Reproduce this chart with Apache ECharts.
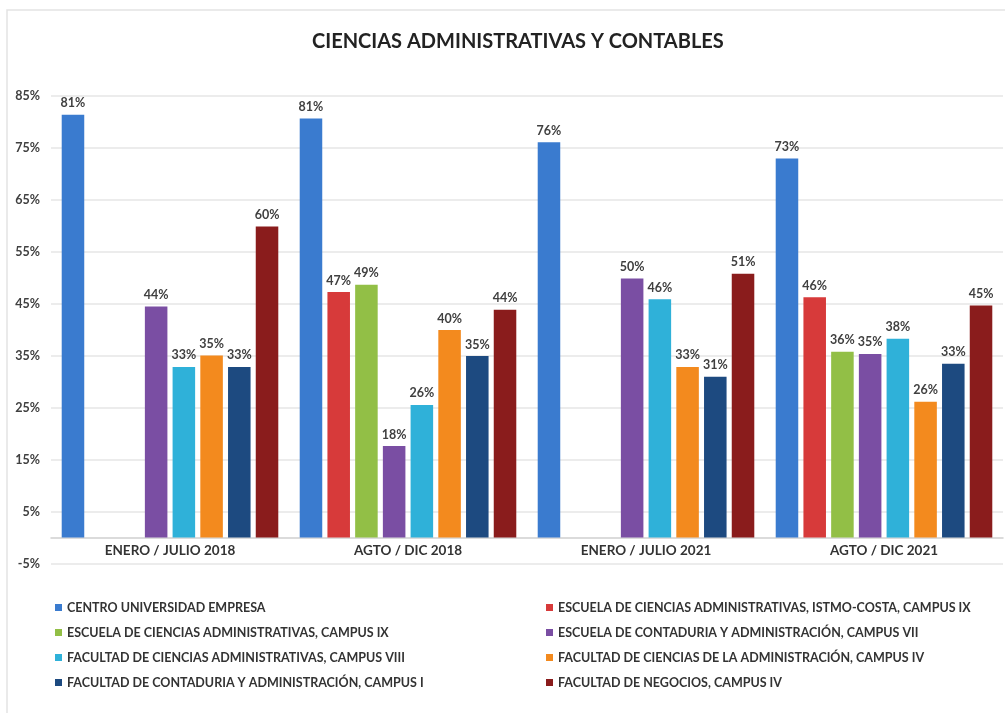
<!DOCTYPE html>
<html>
<head>
<meta charset="utf-8">
<script src="https://cdn.jsdelivr.net/npm/echarts@6/dist/echarts.min.js"></script>
<style>
    html, body { margin: 0; padding: 0; background: #fff; }
    #chart { width: 1005px; height: 713px; }
</style>
</head>
<body>
<div id="chart"></div>
<script>
var periodos = ['ENERO / JULIO 2018', 'AGTO / DIC 2018', 'ENERO / JULIO 2021', 'AGTO / DIC 2021'];

var nombres = [
    'CENTRO UNIVERSIDAD EMPRESA',
    'ESCUELA DE CIENCIAS ADMINISTRATIVAS, ISTMO-COSTA, CAMPUS IX',
    'ESCUELA DE CIENCIAS ADMINISTRATIVAS, CAMPUS IX',
    'ESCUELA DE CONTADURIA Y ADMINISTRACIÓN, CAMPUS VII',
    'FACULTAD DE CIENCIAS ADMINISTRATIVAS, CAMPUS VIII',
    'FACULTAD DE CIENCIAS DE LA ADMINISTRACIÓN, CAMPUS IV',
    'FACULTAD DE CONTADURIA Y ADMINISTRACIÓN, CAMPUS I',
    'FACULTAD DE NEGOCIOS, CAMPUS IV'
];

// valores por periodo (en %)
var centroEmpresa = [81.3, 80.6, 76.0, 72.9];
var istmoCosta = [0, 47.2, 0, 46.2];
var cienciasAdmIX = [0, 48.6, 0, 35.7];
var contaduriaVII = [44.4, 17.6, 49.8, 35.3];
var cienciasAdmVIII = [32.8, 25.5, 45.8, 38.2];
var cienciasAdmonIV = [35.0, 39.9, 32.8, 26.1];
var contaduriaI = [32.8, 34.9, 30.9, 33.4];
var negociosIV = [59.8, 43.8, 50.7, 44.6];

var valores = [centroEmpresa, istmoCosta, cienciasAdmIX, contaduriaVII,
    cienciasAdmVIII, cienciasAdmonIV, contaduriaI, negociosIV];

var colores = ['#3a7bcf', '#d73a3a', '#92bf46', '#7a4ea3', '#2fb1d9', '#f38a1e', '#1d4a80', '#8a1c1c'];

var fuente = 'Lato, "Open Sans", sans-serif';

var mychart = echarts.init(document.getElementById('chart'));

var series = nombres.map(function (n, i) {
    return {
        name: n,
        type: 'bar',
        data: valores[i],
        barGap: '23%',
        barCategoryGap: '9%',
        itemStyle: {color: colores[i]},
        label: {
            show: true,
            position: 'top',
            distance: 5,
            color: '#404040',
            fontFamily: fuente,
            fontWeight: 'bold',
            fontSize: 12.5,
            formatter: function (p) {
                return p.value > 0 ? Math.round(p.value) + '%' : '';
            }
        }
    };
});

var legendBase = {
    orient: 'vertical',
    top: 596,
    itemWidth: 7,
    itemHeight: 7,
    itemGap: 12,
    icon: 'rect',
    textStyle: {
        color: '#333',
        fontFamily: fuente,
        fontWeight: 'bold',
        fontSize: 12.5
    }
};

var option = {
    color: colores,
    title: {
        text: 'CIENCIAS ADMINISTRATIVAS Y CONTABLES',
        left: 307,
        top: 27,
        textStyle: {
            color: '#222',
            fontFamily: fuente,
            fontWeight: 'bold',
            fontSize: 20
        }
    },
    legend: [
        Object.assign({}, legendBase, {left: 50, data: [nombres[0], nombres[2], nombres[4], nombres[6]]}),
        Object.assign({}, legendBase, {left: 541, data: [nombres[1], nombres[3], nombres[5], nombres[7]]})
    ],
    grid: {
        left: 51,
        right: 2,
        top: 95.5,
        bottom: 149.5,
        containLabel: false
    },
    xAxis: {
        type: 'category',
        data: periodos,
        axisTick: {show: false},
        axisLine: {lineStyle: {color: '#d0d0d0', width: 1.5}},
        axisLabel: {
            color: '#333',
            fontFamily: fuente,
            fontWeight: 'bold',
            fontSize: 13.5,
            margin: -20
        }
    },
    yAxis: {
        type: 'value',
        min: -5,
        max: 85,
        interval: 10,
        axisLabel: {
            formatter: '{value}%',
            color: '#404040',
            fontFamily: fuente,
            fontWeight: 'bold',
            fontSize: 12.5,
            margin: 11
        },
        splitLine: {lineStyle: {color: '#e6e6e6', width: 1.5}}
    },
    graphic: [{
        type: 'rect',
        shape: {x: 7, y: 10, width: 1100, height: 800},
        style: {fill: 'none', stroke: '#e3e3e3', lineWidth: 1.5},
        silent: true
    }],
    series: series
};

mychart.setOption(option);
</script>
</body>
</html>
